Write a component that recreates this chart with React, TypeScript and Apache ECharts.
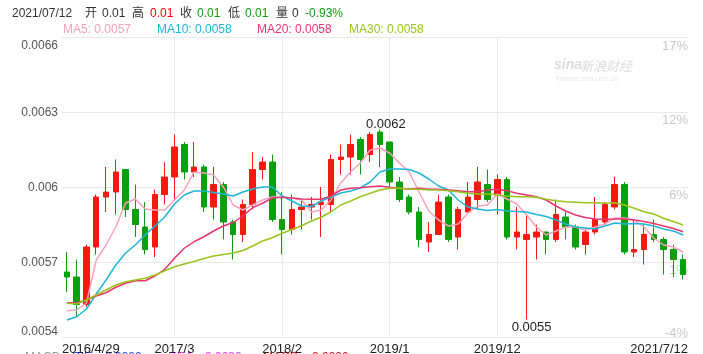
import React, { useEffect, useRef } from 'react';
import * as echarts from 'echarts';

const categories = [
  '2016/4/29', '2016/5', '2016/6', '2016/7', '2016/8', '2016/9', '2016/10', '2016/11', '2016/12',
  '2017/1', '2017/2', '2017/3', '2017/4', '2017/5', '2017/6', '2017/7', '2017/8', '2017/9', '2017/10', '2017/11', '2017/12',
  '2018/1', '2018/2', '2018/3', '2018/4', '2018/5', '2018/6', '2018/7', '2018/8', '2018/9', '2018/10', '2018/11', '2018/12',
  '2019/1', '2019/2', '2019/3', '2019/4', '2019/5', '2019/6', '2019/7', '2019/8', '2019/9', '2019/10', '2019/11', '2019/12',
  '2020/1', '2020/2', '2020/3', '2020/4', '2020/5', '2020/6', '2020/7', '2020/8', '2020/9', '2020/10', '2020/11', '2020/12',
  '2021/1', '2021/2', '2021/3', '2021/4', '2021/5', '2021/6', '2021/7/12',
];

// [open, close, low, high]
const candles: number[][] = [
  [0.00566, 0.00564, 0.00558, 0.00574],
  [0.00564, 0.00553, 0.00548, 0.00571],
  [0.00553, 0.00576, 0.00552, 0.00577],
  [0.00576, 0.00596, 0.00573, 0.00597],
  [0.00596, 0.00598, 0.0059, 0.00608],
  [0.00598, 0.00606, 0.00589, 0.00611],
  [0.00607, 0.00591, 0.00588, 0.00607],
  [0.00591, 0.00585, 0.0058, 0.00601],
  [0.00584, 0.00575, 0.00573, 0.00594],
  [0.00576, 0.00597, 0.00572, 0.00599],
  [0.00597, 0.00604, 0.00593, 0.0061],
  [0.00604, 0.00616, 0.00595, 0.00621],
  [0.00617, 0.00606, 0.00603, 0.00618],
  [0.00606, 0.00608, 0.00604, 0.00618],
  [0.00608, 0.00592, 0.0059, 0.00609],
  [0.00592, 0.00601, 0.00587, 0.00608],
  [0.00601, 0.00586, 0.00579, 0.00602],
  [0.00586, 0.00581, 0.00571, 0.00587],
  [0.00581, 0.00593, 0.00578, 0.00595],
  [0.00593, 0.00607, 0.00591, 0.00614],
  [0.00607, 0.0061, 0.00603, 0.00612],
  [0.0061, 0.00587, 0.00586, 0.00613],
  [0.00587, 0.00583, 0.00573, 0.00598],
  [0.00583, 0.00591, 0.00581, 0.00597],
  [0.00591, 0.00592, 0.00583, 0.00595],
  [0.00592, 0.00593, 0.00587, 0.00596],
  [0.00593, 0.00594, 0.0058, 0.006],
  [0.00593, 0.00611, 0.0059, 0.00613],
  [0.00611, 0.00612, 0.00605, 0.00617],
  [0.00612, 0.00617, 0.00605, 0.00621],
  [0.00619, 0.00611, 0.00605, 0.0062],
  [0.00613, 0.00621, 0.0061, 0.00622],
  [0.00622, 0.00617, 0.00608, 0.00623],
  [0.00618, 0.00602, 0.006, 0.00618],
  [0.00602, 0.00595, 0.00594, 0.00604],
  [0.00596, 0.0059, 0.00589, 0.00597],
  [0.0059, 0.00579, 0.00576, 0.00592],
  [0.00578, 0.00581, 0.00574, 0.00586],
  [0.00581, 0.00594, 0.00581, 0.00597],
  [0.00596, 0.00579, 0.00578, 0.00597],
  [0.0058, 0.00591, 0.00575, 0.00592],
  [0.0059, 0.00596, 0.0059, 0.00602],
  [0.00595, 0.00602, 0.00591, 0.00608],
  [0.00601, 0.00595, 0.00594, 0.00607],
  [0.00597, 0.00603, 0.00589, 0.00605],
  [0.00603, 0.0058, 0.00579, 0.00604],
  [0.0058, 0.00582, 0.00575, 0.00592],
  [0.00579, 0.00581, 0.00547, 0.00589],
  [0.0058, 0.00582, 0.00571, 0.00585],
  [0.00582, 0.00579, 0.00573, 0.00582],
  [0.00579, 0.00589, 0.00578, 0.00595],
  [0.00588, 0.00584, 0.00579, 0.0059],
  [0.00584, 0.00576, 0.00575, 0.00585],
  [0.00577, 0.00582, 0.00573, 0.00583],
  [0.00582, 0.00587, 0.00581, 0.00596],
  [0.00586, 0.00593, 0.00585, 0.00594],
  [0.00592, 0.00601, 0.00591, 0.00604],
  [0.00601, 0.00574, 0.00573, 0.00602],
  [0.00574, 0.00575, 0.00572, 0.00587],
  [0.00575, 0.00581, 0.00569, 0.00585],
  [0.00581, 0.00579, 0.00578, 0.00587],
  [0.00579, 0.00575, 0.00565, 0.0058],
  [0.00575, 0.00571, 0.00564, 0.00577],
  [0.00571, 0.00565, 0.00563, 0.00573],
];

const ma5 = [
  0.005505, 0.005508, 0.005536, 0.005708, 0.005768, 0.00584, 0.005936, 0.005952, 0.005912, 0.005908,
  0.005908, 0.005948, 0.005988, 0.00606, 0.006056, 0.006048, 0.006, 0.005928, 0.005908, 0.005928,
  0.005948, 0.00596, 0.00596, 0.005956, 0.005948, 0.0059, 0.005908, 0.005948, 0.006016, 0.00606,
  0.006096, 0.006148, 0.006156, 0.006136, 0.006096, 0.00606, 0.00598, 0.005904, 0.005868, 0.005844,
  0.005852, 0.005896, 0.005924, 0.005928, 0.005972, 0.005952, 0.005932, 0.005888, 0.00584, 0.005808,
  0.005824, 0.00584, 0.00584, 0.005828, 0.00584, 0.005852, 0.005876, 0.005876, 0.005868, 0.00584,
  0.005796, 0.005768, 0.00576, 0.00574,
];
const ma10 = [
  0.005468, 0.005481, 0.005512, 0.005572, 0.005628, 0.005688, 0.005736, 0.005768, 0.005808, 0.005844,
  0.00588, 0.005932, 0.005968, 0.005984, 0.005984, 0.005978, 0.005972, 0.005964, 0.00598, 0.005992,
  0.006, 0.006, 0.005964, 0.005944, 0.005924, 0.005922, 0.005944, 0.00596, 0.005976, 0.005984,
  0.005996, 0.00602, 0.00606, 0.006072, 0.006072, 0.00607, 0.006056, 0.006032, 0.006004, 0.005988,
  0.005948, 0.00592, 0.005912, 0.005906, 0.00591, 0.005904, 0.005902, 0.0059, 0.00589, 0.005882,
  0.005868, 0.005852, 0.00584, 0.005836, 0.005832, 0.005844, 0.005856, 0.005852, 0.005854, 0.005852,
  0.005844, 0.005832, 0.005824, 0.005808,
];
const ma20 = [
  0.005537, 0.005537, 0.005548, 0.005564, 0.005577, 0.005599, 0.005615, 0.005625, 0.005625, 0.005644,
  0.005671, 0.005715, 0.005755, 0.005781, 0.005801, 0.005824, 0.005844, 0.005858, 0.005884, 0.005918,
  0.005935, 0.005956, 0.005959, 0.005956, 0.005952, 0.005951, 0.005951, 0.005964, 0.005988, 0.005995,
  0.005997, 0.006001, 0.006004, 0.005999, 0.005995, 0.005991, 0.005995, 0.005991, 0.005991, 0.005988,
  0.005985, 0.005981, 0.005981, 0.005988, 0.005991, 0.005985, 0.005975, 0.005968, 0.005961, 0.005948,
  0.005924, 0.005904, 0.005888, 0.005878, 0.005872, 0.00587, 0.005872, 0.005872, 0.005868, 0.005862,
  0.005854, 0.005844, 0.005834, 0.005821,
];
const ma30 = [
  0.005535, 0.005532, 0.005548, 0.005568, 0.005588, 0.005608, 0.005621, 0.005628, 0.005635, 0.005648,
  0.005665, 0.005681, 0.005692, 0.005702, 0.005714, 0.005724, 0.00573, 0.005736, 0.005746, 0.005764,
  0.005784, 0.005797, 0.005815, 0.00583, 0.005845, 0.005864, 0.005879, 0.005901, 0.005928, 0.005944,
  0.005961, 0.005975, 0.005988, 0.005995, 0.005995, 0.005992, 0.005991, 0.005988, 0.005988, 0.005985,
  0.005981, 0.005975, 0.005972, 0.005972, 0.005968, 0.005964, 0.005961, 0.005961, 0.005959, 0.005951,
  0.005945, 0.005941, 0.005939, 0.005937, 0.005937, 0.005935, 0.005937, 0.005928, 0.005915, 0.005901,
  0.005892, 0.005875, 0.005862, 0.005848,
];

const leftLabels = ['0.0054', '0.0057', '0.006', '0.0063', '0.0066'];
const rightLabels = ['-4%', '1%', '6%', '12%', '17%'];
const xLabelIndex = [0, 11, 22, 33, 44, 63];
const gridLineIndex = [11, 22, 33, 44];

// header: [text, kind]  kind: d = neutral, r = up, g = down
const headerTokens: [string, string][] = [
  ['2021/07/12', 'd'], ['开', 'd'], ['0.01', 'd'], ['高', 'd'], ['0.01', 'r'], ['收', 'd'],
  ['0.01', 'g'], ['低', 'd'], ['0.01', 'g'], ['量', 'd'], ['0', 'd'], ['-0.93%', 'g'],
];
const macdTokens: [string, string][] = [
  ['MACD:', 'a'], ['DIF:', 'b'], ['0.0000', 'b'], ['DEA:', 'c'], ['0.0000', 'c'], ['MACD:', 'e'], ['0.0000', 'e'],
];

const Y_MIN = 0.0054;
const Y_MAX = 0.0066;
const Y_STEP = 0.0003;

const RED = '#f41a12';
const GREEN = '#0a9f0c';
const C_MA5 = '#f7a1be';
const C_MA10 = '#1fb5d8';
const C_MA20 = '#e8356f';
const C_MA30 = '#9ac31c';
const FONT = 'Arial, "Liberation Sans", "Noto Sans CJK SC", sans-serif';

const HEADER_X = [12, 85, 102, 132, 150, 180, 197, 228, 245, 276, 292, 305];
const MACD_X = [25, 72, 105, 168, 205, 263, 312];
const KIND_COLOR: Record<string, string> = {
  d: '#333', r: '#f00', g: '#0a9f0c', a: '#999', b: '#3355ee', c: '#ee44ee', e: '#cc2222',
};

export default function App() {
  const ref = useRef<HTMLDivElement>(null);
  useEffect(() => {
    if (!ref.current) return;
    const chart = echarts.init(ref.current, undefined, { renderer: 'svg' });
    const n = categories.length;
    const xVals = xLabelIndex.map((i) => (i === 0 ? 0 : i === n - 1 ? n : i + 0.5));
    const xText = xLabelIndex.map((i) => categories[i]);
    const lbl = (v: number) => Math.round((v - Y_MIN) / Y_STEP);
    const lastOf = (a: number[]) => a[a.length - 1].toFixed(4);

    const headerGraphics = headerTokens.map(([t, k], i) => ({
      type: 'text',
      left: HEADER_X[i],
      top: 7,
      style: { text: t, fill: KIND_COLOR[k], fontSize: 12, fontFamily: FONT },
    }));
    const macdGraphics = macdTokens.map(([t, k], i) => ({
      type: 'text',
      left: MACD_X[i],
      top: 351,
      style: { text: t, fill: KIND_COLOR[k], fontSize: 12, fontFamily: FONT },
    }));

    const option: any = {
      animation: false,
      textStyle: { fontFamily: FONT },
      grid: { left: 62, right: 15, top: 37, bottom: 17, containLabel: false, outerBoundsMode: 'none' },
      xAxis: [
        {
          type: 'category',
          data: categories,
          boundaryGap: true,
          axisLine: { show: false },
          axisTick: { show: false },
          axisLabel: { show: false },
          splitLine: { show: false },
        },
        {
          type: 'value',
          min: 0,
          max: n,
          position: 'bottom',
          axisLine: { show: false },
          axisTick: { show: false },
          splitLine: { show: false },
          axisLabel: {
            customValues: xVals,
            formatter: (v: number) => {
              const k = xVals.findIndex((x) => Math.abs(x - v) < 1e-6);
              return k >= 0 ? xText[k] : '';
            },
            alignMinLabel: 'left',
            alignMaxLabel: 'right',
            color: '#222',
            fontSize: 13,
            margin: 5,
            fontFamily: FONT,
          },
        },
      ],
      yAxis: [
        {
          type: 'value',
          min: Y_MIN,
          max: Y_MAX,
          interval: Y_STEP,
          position: 'left',
          axisLine: { show: false },
          axisTick: { show: false },
          splitLine: { show: true, lineStyle: { color: '#e9e9e9', width: 1 } },
          axisLabel: {
            margin: 4,
            formatter: (v: number) => {
              const i = lbl(v);
              const t = leftLabels[i] ?? '';
              if (i === leftLabels.length - 1) return `{top|${t}}`;
              if (i === 0) return `{bot|${t}}`;
              return `{mid|${t}}`;
            },
            rich: {
              top: { padding: [16, 0, 0, 0], color: '#555', fontSize: 12, fontFamily: FONT },
              bot: { padding: [0, 0, 12, 0], color: '#555', fontSize: 12, fontFamily: FONT },
              mid: { color: '#555', fontSize: 12, fontFamily: FONT },
            },
          },
        },
        {
          type: 'value',
          min: Y_MIN,
          max: Y_MAX,
          interval: Y_STEP,
          position: 'right',
          axisLine: { show: false },
          axisTick: { show: false },
          splitLine: { show: false },
          axisLabel: {
            inside: true,
            margin: 0,
            formatter: (v: number) => {
              const i = lbl(v);
              const t = rightLabels[i] ?? '';
              if (i === rightLabels.length - 1) return `{top|${t}}`;
              if (i === 0) return `{bot|${t}}`;
              return `{mid|${t}}`;
            },
            rich: {
              top: { padding: [16, 0, 0, 0], color: '#c8c8c8', fontSize: 13, fontFamily: FONT },
              bot: { padding: [0, 0, 10, 0], color: '#c8c8c8', fontSize: 13, fontFamily: FONT },
              mid: { padding: [14, 0, 0, 0], color: '#c8c8c8', fontSize: 13, fontFamily: FONT },
            },
          },
        },
      ],
      series: [
        {
          type: 'line',
          data: [],
          z: 0,
          silent: true,
          markLine: {
            z: 1,
            silent: true,
            symbol: ['none', 'none'],
            label: { show: false },
            lineStyle: { color: '#e9e9e9', type: 'solid', width: 1 },
            data: gridLineIndex.map((i) => ({ xAxis: categories[i] })),
          },
        },
        {
          type: 'candlestick',
          data: candles,
          barWidth: 6,
          z: 3,
          itemStyle: {
            color: RED,
            color0: GREEN,
            borderColor: RED,
            borderColor0: GREEN,
            borderWidth: 1,
          },
          markPoint: {
            symbol: 'circle',
            symbolSize: 0,
            data: [
              { type: 'max', valueDim: 'highest', label: { position: 'top', distance: 0, offset: [6, 0] } },
              { type: 'min', valueDim: 'lowest', label: { position: 'bottom', distance: 0, offset: [5, 0] } },
            ],
            label: {
              formatter: (p: any) => Number(p.value).toFixed(4),
              color: '#222',
              fontSize: 13,
              fontFamily: FONT,
            },
          },
        },
        { type: 'line', data: ma5, showSymbol: false, z: 4, lineStyle: { color: C_MA5, width: 1.5 }, itemStyle: { color: C_MA5 } },
        { type: 'line', data: ma10, showSymbol: false, z: 4, lineStyle: { color: C_MA10, width: 1.5 }, itemStyle: { color: C_MA10 } },
        { type: 'line', data: ma20, showSymbol: false, z: 4, lineStyle: { color: C_MA20, width: 1.5 }, itemStyle: { color: C_MA20 } },
        { type: 'line', data: ma30, showSymbol: false, z: 4, lineStyle: { color: C_MA30, width: 1.5 }, itemStyle: { color: C_MA30 } },
      ],
      graphic: [
        ...headerGraphics,
        { type: 'text', left: 63, top: 23, style: { text: `MA5: ${lastOf(ma5)}`, fill: C_MA5, fontSize: 12, fontFamily: FONT } },
        { type: 'text', left: 157, top: 23, style: { text: `MA10: ${lastOf(ma10)}`, fill: C_MA10, fontSize: 12, fontFamily: FONT } },
        { type: 'text', left: 257, top: 23, style: { text: `MA20: ${lastOf(ma20)}`, fill: C_MA20, fontSize: 12, fontFamily: FONT } },
        { type: 'text', left: 349, top: 23, style: { text: `MA30: ${lastOf(ma30)}`, fill: C_MA30, fontSize: 12, fontFamily: FONT } },
        {
          type: 'text',
          left: 554,
          top: 57,
          style: { text: 'sina', fill: '#dcdcdc', font: 'italic bold 14px Arial, sans-serif' },
        },
        {
          type: 'text',
          left: 580,
          top: 59,
          style: { text: '新浪财经', fill: '#dcdcdc', font: 'italic 13px "Noto Sans CJK SC", sans-serif' },
        },
        {
          type: 'text',
          left: 556,
          top: 75,
          style: { text: 'finance.sina.com.cn', fill: '#e8e8e8', font: '7px Arial, sans-serif' },
        },
        ...macdGraphics,
      ],
    };
    chart.setOption(option);
    return () => chart.dispose();
  }, []);
  return <div ref={ref} style={{ position: 'fixed', left: 0, top: 0, width: 703, height: 354 }} />;
}
